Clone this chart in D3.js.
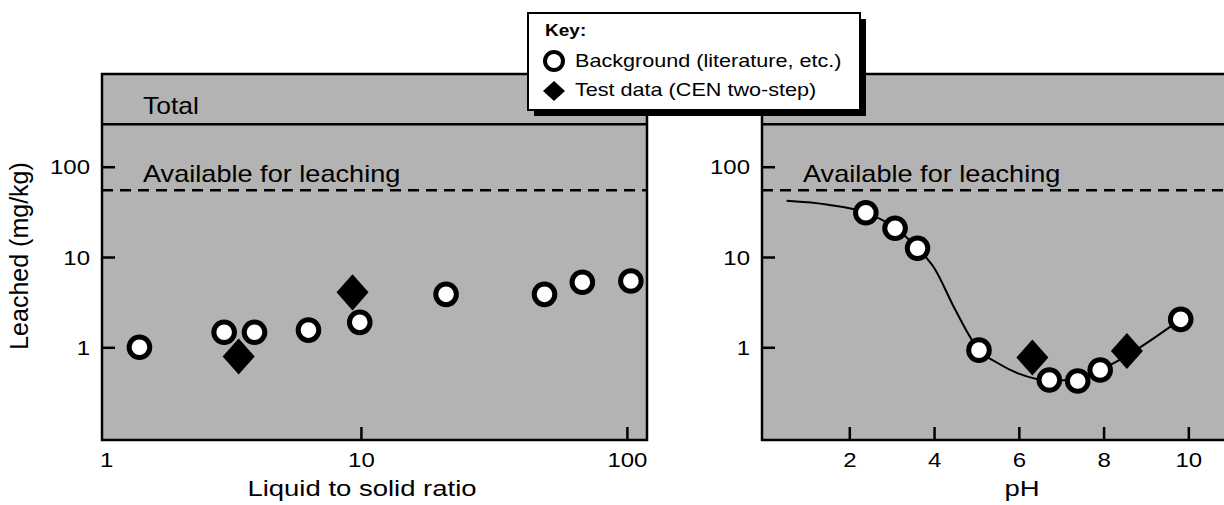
<!DOCTYPE html>
<html>
<head>
<meta charset="utf-8">
<script src="https://cdn.jsdelivr.net/npm/d3@7"></script>
<style>
  body { margin: 0; background: #fff; }
  svg { display: block; font-family: "Liberation Sans", Arial, Helvetica, sans-serif; }
</style>
</head>
<body>
<div class="leach_chart"></div>
<script>
var FONT = '"Liberation Sans", Arial, Helvetica, sans-serif';

// Background points (literature) and test points, left panel: liquid to solid ratio
var lsBackgroundX = [1.47, 3.06, 3.98, 6.35, 9.9, 20.9, 49, 68, 103.5];
var lsBackgroundY = [1.0, 1.47, 1.47, 1.55, 1.89, 3.86, 3.86, 5.25, 5.42];
var lsTestX = [3.47, 9.3];
var lsTestY = [0.79, 4.06];

// Right panel: pH
var phBackgroundX = [2.39, 3.08, 3.61, 5.06, 6.72, 7.39, 7.92, 9.82];
var phBackgroundY = [30.9, 20.8, 12.5, 0.93, 0.434, 0.423, 0.56, 2.04];
var phTestX = [6.32, 8.55];
var phTestY = [0.77, 0.91];
var phCurveX = [0.52, 1.5, 2.39, 3.08, 3.61, 4.0, 4.5, 5.06, 5.5, 6.0, 6.72, 7.39, 7.92, 9.82];
var phCurveY = [42, 38, 31, 21, 12.5, 7.6, 2.6, 0.93, 0.67, 0.51, 0.43, 0.44, 0.56, 2.04];

var availableLevel = 55;
var totalLevel = 295;
var yTicks = [1, 10, 100];
var lsTicks = [10, 100];
var phTicks = [2, 4, 6, 8, 10];
var legendItems = ["Background (literature, etc.)", "Test data (CEN two-step)"];

var width = 1224, height = 505;

var svg = d3.select(".leach_chart")
  .append("svg")
  .attr("width", width)
  .attr("height", height);

// Shared y scale
var y = d3.scaleLog()
  .domain([0.094, 1064])
  .range([440, 74]);

var xL = d3.scaleLog().domain([1.063, 119]).range([102, 647]);
var xR = d3.scaleLinear().domain([-0.06, 12.8]).range([762, 1307]);

// diamond symbol, a bit taller than wide
var diamond = {
  draw: function(ctx, size) {
    var w = Math.sqrt(size) * 0.47, h = Math.sqrt(size) * 0.53;
    ctx.moveTo(0, -h); ctx.lineTo(w, 0); ctx.lineTo(0, h); ctx.lineTo(-w, 0); ctx.closePath();
  }
};

// text in the picture is set wide, so stretch it horizontally
function wideText(g, x, yy, str, size, sx, anchor) {
  return g.append("text")
    .attr("transform", "translate(" + x + "," + yy + ") scale(" + sx + ",1)")
    .attr("text-anchor", anchor || "start")
    .style("font-size", size + "px")
    .style("font-family", FONT)
    .attr("fill", "#000")
    .text(str);
}

function drawPanel(x, ticks, bgX, bgY, tX, tY, title, withCurve) {
  var x0 = x.range()[0], x1 = x.range()[1];

  // Box
  svg.append("rect")
    .attr("x", x0).attr("y", y.range()[1])
    .attr("width", x1 - x0).attr("height", y.range()[0] - y.range()[1])
    .attr("fill", "#b3b3b3");

  // Total line
  svg.append("line")
    .attr("x1", x0).attr("x2", x1)
    .attr("y1", y(totalLevel)).attr("y2", y(totalLevel))
    .attr("stroke", "#000").attr("stroke-width", 2.5);

  // Available for leaching
  svg.append("line")
    .attr("x1", x0).attr("x2", x1)
    .attr("y1", y(availableLevel)).attr("y2", y(availableLevel))
    .attr("stroke", "#000").attr("stroke-width", 2.5)
    .attr("stroke-dasharray", "11,7");

  wideText(svg, x0 + 41, 114, "Total", 23, 1.15);
  wideText(svg, x0 + 41, 182, "Available for leaching", 23, 1.18);

  // Y axis
  svg.append("g")
    .attr("transform", "translate(" + x0 + ",0)")
    .call(d3.axisLeft(y).tickValues(yTicks).tickSize(-13).tickFormat(d3.format("d")))
    .call(g => g.select(".domain").remove())
    .call(g => g.selectAll(".tick line").attr("stroke-width", 2.5))
    .call(g => g.selectAll(".tick text")
      .attr("x", null).attr("dy", "0.36em")
      .attr("transform", "translate(-12,0) scale(1.2,1)")
      .attr("fill", "#000")
      .style("font-size", "20px")
      .style("font-family", FONT));

  // X axis
  svg.append("g")
    .attr("transform", "translate(0," + y.range()[0] + ")")
    .call(d3.axisBottom(x).tickValues(ticks).tickSize(-13).tickFormat(d3.format("d")))
    .call(g => g.select(".domain").remove())
    .call(g => g.selectAll(".tick line").attr("stroke-width", 2.5))
    .call(g => g.selectAll(".tick text")
      .attr("y", null).attr("dy", null)
      .attr("transform", "translate(0,27) scale(1.2,1)")
      .attr("fill", "#000")
      .style("font-size", "20px")
      .style("font-family", FONT));

  wideText(svg, x0 + 260, 496, title, 22, 1.25, "middle");

  // fitted curve under the markers
  if (withCurve) {
    var line = d3.line()
      .x(d => x(d[0]))
      .y(d => y(d[1]))
      .curve(d3.curveMonotoneX);

    svg.append("path")
      .datum(phCurveX.map((v, i) => [v, phCurveY[i]]))
      .attr("d", line)
      .attr("fill", "none")
      .attr("stroke", "#000")
      .attr("stroke-width", 2);
  }

  // Test data diamonds
  svg.append("g").selectAll("path")
    .data(tX.map((v, i) => [v, tY[i]]))
    .enter().append("path")
    .attr("transform", d => "translate(" + x(d[0]) + "," + y(d[1]) + ")")
    .attr("d", d3.symbol().type(diamond).size(1160))
    .attr("fill", "#000");

  // Background circles
  svg.append("g").selectAll("circle")
    .data(bgX.map((v, i) => [v, bgY[i]]))
    .enter().append("circle")
    .attr("cx", d => x(d[0]))
    .attr("cy", d => y(d[1]))
    .attr("r", 10.3)
    .attr("fill", "#fff")
    .attr("stroke", "#000")
    .attr("stroke-width", 5);

  // Box outline
  svg.append("rect")
    .attr("x", x0).attr("y", y.range()[1])
    .attr("width", x1 - x0).attr("height", y.range()[0] - y.range()[1])
    .attr("fill", "none")
    .attr("stroke", "#000").attr("stroke-width", 2.5);
}

drawPanel(xL, lsTicks, lsBackgroundX, lsBackgroundY, lsTestX, lsTestY, "Liquid to solid ratio", false);
drawPanel(xR, phTicks, phBackgroundX, phBackgroundY, phTestX, phTestY, "pH", true);

// label "1" sits at the left edge of the log axis
wideText(svg, xL.range()[0] - 2, 467, "1", 20, 1.2, "start");

// Y axis title
svg.append("text")
  .attr("transform", "translate(28,256) rotate(-90)")
  .attr("text-anchor", "middle")
  .style("font-size", "25px")
  .style("font-family", FONT)
  .text("Leached (mg/kg)");

// Legend
var legend = svg.append("g").attr("transform", "translate(528,13)");
legend.append("rect")
  .attr("x", 6).attr("y", 6)
  .attr("width", 332).attr("height", 97)
  .attr("fill", "#000");
legend.append("rect")
  .attr("width", 332).attr("height", 97)
  .attr("fill", "#fff")
  .attr("stroke", "#000").attr("stroke-width", 2);

legend.append("text")
  .attr("transform", "translate(17,23) scale(1.12,1)")
  .style("font-size", "17px")
  .style("font-weight", "bold")
  .style("font-family", FONT)
  .text("Key:");

var items = legend.selectAll(".item")
  .data(legendItems)
  .enter().append("g")
  .attr("class", "item")
  .attr("transform", (d, i) => "translate(0," + (48 + i * 29) + ")");

items.filter((d, i) => i === 0).append("circle")
  .attr("cx", 26).attr("cy", 0).attr("r", 9)
  .attr("fill", "#fff").attr("stroke", "#000").attr("stroke-width", 4);

items.filter((d, i) => i === 1).append("path")
  .attr("transform", "translate(26,1)")
  .attr("d", "M0,-10L11,0L0,10L-11,0Z")
  .attr("fill", "#000");

items.append("text")
  .attr("transform", "translate(47,6) scale(1.2,1)")
  .style("font-size", "18px")
  .style("font-family", FONT)
  .text(d => d);
</script>
</body>
</html>
